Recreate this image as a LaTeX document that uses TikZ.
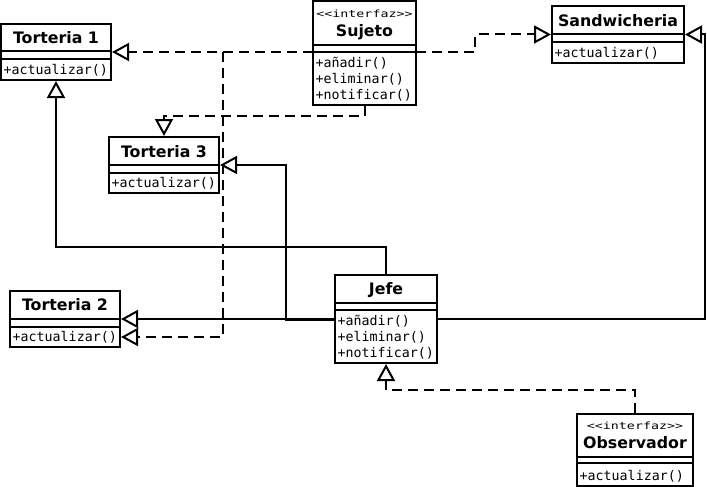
\documentclass[tikz,border=0pt]{standalone}
\usepackage{fontspec}
\usepackage{graphicx}
\newfontfamily\ttlfont{DejaVu Sans}
\newfontfamily\mthfont{DejaVu Sans Mono}
\usetikzlibrary{arrows.meta,fit}
\tikzset{
  classbox/.style={draw, line width=2pt, fill=white, inner sep=0pt},
  divline/.style={line width=2pt},
  ttl/.style={font=\ttlfont\bfseries\fontsize{15.8}{18}\selectfont, inner sep=0pt, anchor=base},
  mth/.style={font=\mthfont\fontsize{13.3}{16}\selectfont, inner sep=0pt, anchor=base west},
  stereo/.style={font=\mthfont\fontsize{10}{12}\selectfont, inner sep=0pt, anchor=base},
  conn/.style={line width=2pt},
  dconn/.style={line width=2pt, dash pattern=on 10pt off 6pt},
  gen/.style={-{Triangle[open, length=17pt, width=18pt]}}
}
\newcommand\umlclass[7]{%
  \node[classbox, fit={(#2,#3) (#4,#5)}] (#1) {};
  \draw[divline] (#2,#6) -- (#4,#6);
  \draw[divline] (#2,#7) -- (#4,#7);
}
\begin{document}
\begin{tikzpicture}[x=1pt, y=-1pt]
\useasboundingbox (0,0) rectangle (707,487);

% classes
\umlclass{T1}{1}{24}{111}{80}{51.5}{59}
\node[ttl] (T1t) at (56,43.3) {Torteria 1};
\node[mth] (T1m) at (3.5,74.5) {+actualizar()};

\umlclass{Suj}{313}{1}{416}{105}{45}{52}
\node[stereo] (Sujs) at (364.5,17.3) {\scalebox{1.33}[1]{<<interfaz>>}};
\node[ttl] (Sujt) at (364.5,36.7) {Sujeto};
\node[mth] (Sujm1) at (315.5,67.5) {+añadir()};
\node[mth] (Sujm2) at (315.5,83.5) {+eliminar()};
\node[mth] (Sujm3) at (315.5,99.5) {+notificar()};

\umlclass{T3}{109}{137}{219}{193}{165}{173}
\node[ttl] (T3t) at (164,157.3) {Torteria 3};
\node[mth] (T3m) at (111.5,187.5) {+actualizar()};

\umlclass{Sand}{552}{6}{684}{63}{34}{42}
\node[ttl] (Sandt) at (618,26.7) {Sandwicheria};
\node[mth] (Sandm) at (554.5,57.5) {+actualizar()};

\umlclass{T2}{10}{291}{120}{347}{319}{327}
\node[ttl] (T2t) at (65,310) {Torteria 2};
\node[mth] (T2m) at (12.5,341.5) {+actualizar()};

\umlclass{Jefe}{335}{275}{437}{363}{303}{310}
\node[ttl] (Jefet) at (386,294) {Jefe};
\node[mth] (Jefem1) at (337.5,325.5) {+añadir()};
\node[mth] (Jefem2) at (337.5,341.5) {+eliminar()};
\node[mth] (Jefem3) at (337.5,357.5) {+notificar()};

\umlclass{Obs}{577}{414}{693}{486}{457}{463}
\node[stereo] (Obss) at (635,429) {\scalebox{1.33}[1]{<<interfaz>>}};
\node[ttl] (Obst) at (635,448) {Observador};
\node[mth] (Obsm) at (579.5,480) {+actualizar()};

% helper coordinates
\coordinate (sujW) at (313,52);
\coordinate (sujE) at (416,52);
\coordinate (k1) at (475,52);
\coordinate (b1) at (223,52);
\coordinate (b2) at (223,337);
\coordinate (s1) at (0,116);
\coordinate (j1) at (0,247);
\coordinate (c3) at (286,165);
\coordinate (c4) at (705,34.5);
\coordinate (o1) at (0,390);

% dashed realizations
\draw[dconn, gen] (sujW) -- (T1.east);
\draw[dconn, gen] (sujE) -- (k1) |- (Sand.west);
\draw[dconn, gen] (b1) -- (b2) -- (T2.east |- b2);
\draw[dconn, gen] (Suj.south) -- (Suj.south |- s1) -| (T3.north);
\draw[dconn, gen] (Obs.north) -- (Obs.north |- o1) -| (Jefe.south);

% solid generalizations
\draw[conn, gen] (Jefe.north) -- (Jefe.north |- j1) -| (T1.south);
\draw[conn, gen] (Jefe.west) -- (T2.east);
\draw[conn, gen] ([yshift=-1pt]Jefe.west) -| (c3) -- (T3.east);
\draw[conn, gen] (Jefe.east) -| (c4) -- (Sand.east);
\end{tikzpicture}
\end{document}
